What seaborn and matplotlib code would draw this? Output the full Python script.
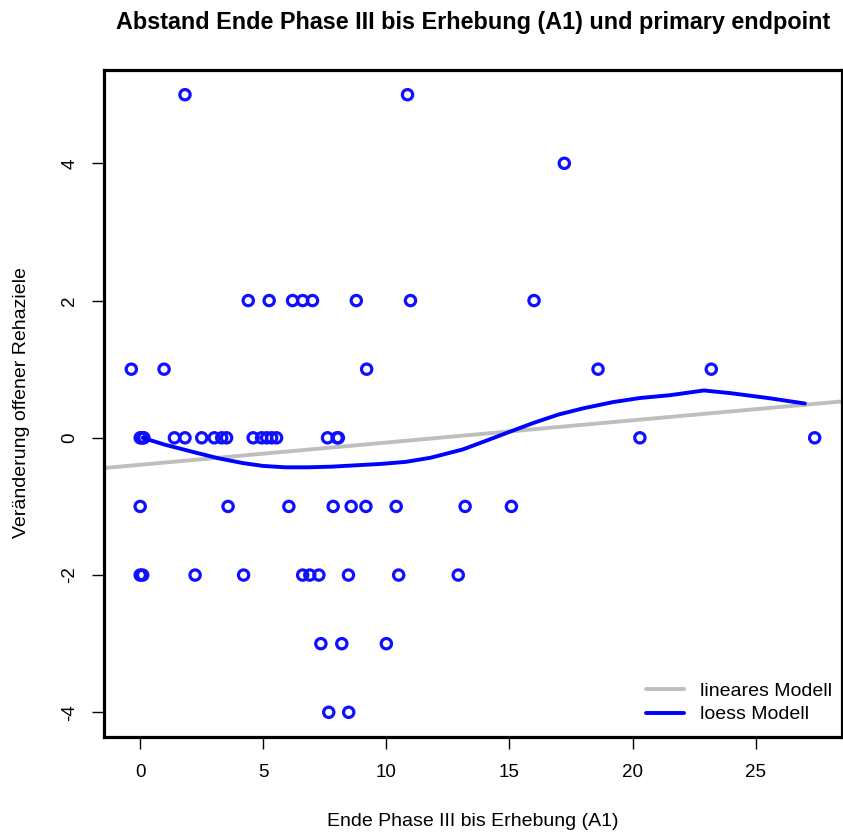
import numpy as np
import pandas as pd
import matplotlib
matplotlib.use("Agg")
import matplotlib.pyplot as plt
import seaborn as sns
from matplotlib.lines import Line2D

# ---- data ----
x_y5 = [1.82, 10.86]
x_y4 = [17.23]
x_y2 = [4.39, 5.24, 6.19, 6.6, 7.0, 8.78, 10.98, 16.0]
x_y1 = [-0.36, 0.97, 9.2, 18.6, 23.2]
x_y0 = [0.0, 0.05, 0.1, 0.15, 1.39, 1.82, 2.5, 3.01, 3.31, 3.51, 4.59, 4.93,
        5.14, 5.34, 5.54, 7.61, 8.0, 8.05, 20.3, 27.4]
x_ym1 = [0.0, 3.57, 6.04, 7.84, 8.57, 9.17, 10.4, 13.2, 15.08]
x_ym2 = [0.0, 0.1, 2.23, 4.2, 6.6, 6.89, 7.26, 8.46, 10.5, 12.92]
x_ym3 = [7.34, 8.19, 10.0]
x_ym4 = [7.66, 8.47]

# fitted curves
loess_x = [0.1, 1.0, 2.3, 3.2, 4.2, 5.0, 5.9, 6.8, 7.8, 8.8, 9.8, 10.8, 11.8,
           13.1, 14.0, 15.1, 16.0, 17.0, 18.0, 19.2, 20.3, 21.5, 22.9, 24.0, 25.5, 27.0]
loess_y = [0.0, -0.1, -0.22, -0.3, -0.37, -0.41, -0.43, -0.43, -0.42, -0.40, -0.38, -0.35, -0.29,
           -0.17, -0.05, 0.1, 0.22, 0.34, 0.43, 0.52, 0.58, 0.62, 0.69, 0.65, 0.58, 0.5]
lm_intercept = -0.393
lm_slope = 0.0324

x_ticks = [0, 5, 10, 15, 20, 25]
y_ticks = [-4, -2, 0, 2, 4]

groups = [(5, x_y5), (4, x_y4), (2, x_y2), (1, x_y1), (0, x_y0),
          (-1, x_ym1), (-2, x_ym2), (-3, x_ym3), (-4, x_ym4)]
xs, ys = [], []
for yv, xl in groups:
    xs += xl
    ys += [yv] * len(xl)
df = pd.DataFrame({"x": xs, "y": ys})
loess_df = pd.DataFrame({"x": loess_x, "y": loess_y})

sns.set_theme(style="white")
plt.rcParams["font.family"] = ["Liberation Sans", "DejaVu Sans"]
for k in ["text.color", "axes.labelcolor", "xtick.color", "ytick.color"]:
    plt.rcParams[k] = "black"

W, H = 843, 833
fig = plt.figure(figsize=(W / 100, H / 100), dpi=100)
ax = fig.add_axes([104 / W, (H - 737) / H, (842 - 104) / W, (737 - 70) / H])

sns.scatterplot(data=df, x="x", y="y", ax=ax, marker="o", s=55,
                facecolors="none", edgecolor="#1010ff", linewidth=2.3, zorder=3)
ax.axline((0, lm_intercept), slope=lm_slope, color="#bebebe", lw=2.8, zorder=2)
sns.lineplot(data=loess_df, x="x", y="y", ax=ax, color="#0000ff", lw=2.8,
             sort=False, estimator=None, zorder=4)

xr = max(xs) - min(xs)
ax.set_xlim(min(xs) - 0.04 * xr, max(xs) + 0.04 * xr)
ax.set_ylim(-4 - 0.36, 5 + 0.36)
ax.set_xticks(x_ticks)
ax.set_yticks(y_ticks)
ax.set_xticklabels([str(t) for t in x_ticks], fontsize=13.5)
ax.set_yticklabels([str(t) for t in y_ticks], fontsize=13.5, rotation=90, va="center")
ax.tick_params(axis="both", direction="out", length=8.5, width=1, color="black",
               bottom=True, left=True, pad=11)
ax.tick_params(axis="y", pad=10)
for sp in ax.spines.values():
    sp.set_color("black")
    sp.set_linewidth(2.3)

ax.set_xlabel("")
ax.set_ylabel("")
fig.text(473 / W, 1 - 822 / H, "Ende Phase III bis Erhebung (A1)", ha="center", va="center", fontsize=14)
fig.text(22 / W, 1 - 403 / H, "Veränderung offener Rehaziele", ha="center", va="center",
         rotation=90, fontsize=14)
fig.text(473 / W, 1 - 22 / H, "Abstand Ende Phase III bis Erhebung (A1) und primary endpoint",
         ha="center", va="center", fontsize=16.8, fontweight="bold")

handles = [Line2D([0], [0], color="#bebebe", lw=2.8),
           Line2D([0], [0], color="#0000ff", lw=2.8)]
ax.legend(handles, ["lineares Modell", "loess Modell"], loc="lower right",
          frameon=False, fontsize=14, handlelength=1.95, handletextpad=0.85,
          labelspacing=0.3, bbox_to_anchor=(1.0095, -0.0045), borderaxespad=0.45)

fig.savefig("out.png", dpi=100)
